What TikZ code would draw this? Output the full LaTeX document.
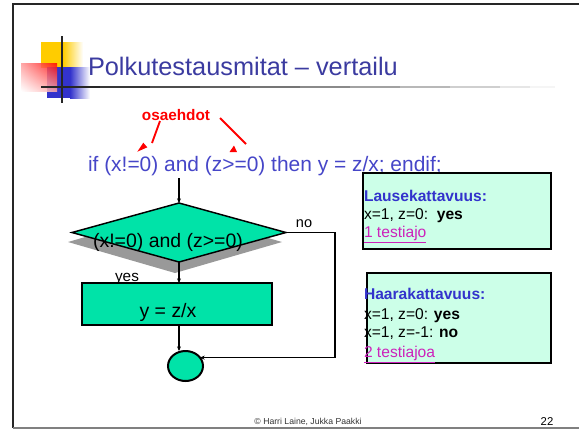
\documentclass[tikz,border=0pt]{standalone}
\usepackage{fontspec}
\setmainfont{Liberation Sans}
\usetikzlibrary{shapes.geometric,arrows.meta,shadings}
\definecolor{turq}{HTML}{00E3A8}
\definecolor{mint}{HTML}{CCFFE8}
\definecolor{titleblue}{HTML}{3B3BA0}
\definecolor{codeblue}{HTML}{4646C8}
\definecolor{headblue}{HTML}{3333CC}
\definecolor{mag}{HTML}{CC22BB}
\definecolor{logoyellow}{HTML}{FFCC00}
\definecolor{logoblue}{HTML}{3333CC}
\definecolor{ruleA}{HTML}{262626}
\definecolor{ruleB}{HTML}{383838}
\definecolor{ruleC}{HTML}{4D4D4D}
\definecolor{ruleD}{HTML}{616161}
\definecolor{ruleE}{HTML}{757575}
\definecolor{ruleF}{HTML}{8A8A8A}
\definecolor{ruleG}{HTML}{A1A1A1}
\definecolor{ruleH}{HTML}{B8B8B8}
\definecolor{ruleI}{HTML}{CFCFCF}
\definecolor{ruleJ}{HTML}{E6E6E6}
\definecolor{ruleK}{HTML}{F5F5F5}
\begin{document}
\begin{tikzpicture}[x=0.75pt,y=-0.75pt,
  every node/.style={inner sep=0pt,outer sep=0pt},
  conn/.style={draw=black,line width=1pt,-{Stealth[length=3.5pt,width=3pt]}},
  flowfill/.style={draw=black,fill=turq,line width=1.3pt},
  infobox/.style={draw=black,fill=mint,line width=1.5pt,anchor=north west},
  boxtext/.style={anchor=base west,font=\fontsize{11.7}{12}\selectfont},
  boxhead/.style={boxtext,text=headblue,font=\bfseries\fontsize{11.7}{12}\selectfont},
  redline/.style={draw=red,line width=1.4pt}]
\useasboundingbox (0,0) rectangle (579,430);
% frame
\draw[ruleA,line width=1.4pt] (579,4) -- (13,4) -- (13,428);
\draw[gray,line width=1pt] (13,428) -- (579,428);
% logo
\fill[logoyellow] (41,42) rectangle (63,68);
\shade[left color=logoyellow,right color=white] (63,42) rectangle (83,68);
\fill[logoblue] (47,67) rectangle (70,98);
\shade[left color=logoblue,right color=white] (70,67) rectangle (90,98);
\begin{scope}[opacity=0.85]
\shade[upper right=red,upper left=red!40,lower left=white,lower right=red!35] (21,63) rectangle (57,91);
\end{scope}
\draw[ruleA,line width=1.9pt] (62,36) -- (62,103);
% title rule, fading from black to white
\fill[ruleA] (41,85.7) rectangle (100.5,88.3);
\fill[ruleB] (100,85.7) rectangle (150.5,88.3);
\fill[ruleC] (150,85.7) rectangle (200.5,88.3);
\fill[ruleD] (200,85.7) rectangle (250.5,88.3);
\fill[ruleE] (250,85.7) rectangle (300.5,88.3);
\fill[ruleF] (300,85.7) rectangle (350.5,88.3);
\fill[ruleG] (350,85.7) rectangle (400.5,88.3);
\fill[ruleH] (400,85.7) rectangle (450.5,88.3);
\fill[ruleI] (450,85.7) rectangle (500.5,88.3);
\fill[ruleJ] (500,85.7) rectangle (530.5,88.3);
\fill[ruleK] (530,85.7) rectangle (555,88.3);
% title
\node[anchor=base west,text=titleblue,font=\fontsize{19}{20}\selectfont] (title) at (88,75) {Polkutestausmitat – vertailu};
% osaehdot
\node[anchor=base,text=red,font=\bfseries\fontsize{11.5}{12}\selectfont] (osa) at (176,120) {osaehdot};
\node[anchor=base west,text=codeblue,font=\fontsize{15.7}{16}\selectfont] (code) at (88,171) {if (x!=0) and (z>=0) then y = z/x; endif;};
\coordinate (la) at (160,121);
\coordinate (lb) at (152,143);
\coordinate (ra) at (220,118);
\coordinate (rb) at (246,144);
\draw[redline] (la) -- (lb);
\draw[redline] (ra) -- (rb);
\fill[red] (137.3,151.7) -- (147.3,147.3) -- (143.3,142.7) -- cycle;
\fill[red] (229.5,152) -- (237,152) -- (234,145.5) -- cycle;
% flowchart
\node[diamond,fill=gray!80,minimum width=160.5pt,minimum height=46.5pt] (shadow) at (175,242) {};
\node[diamond,flowfill,line width=1.1pt,minimum width=160.5pt,minimum height=44.25pt] (dia) at (179,232.5) {};
\node[anchor=base,font=\fontsize{14.6}{15}\selectfont] (dtext) at (168,247) {(x!=0) and (z>=0)};
\node[anchor=base,font=\fontsize{11.5}{12}\selectfont] (yes) at (127,281) {yes};
\node[flowfill,line width=1.5pt,minimum width=142.5pt,minimum height=31.5pt] (rect) at (177,304) {};
\node[anchor=base,font=\fontsize{14.6}{15}\selectfont] (rtext) at (168,317) {y = z/x};
\node[ellipse,flowfill,line width=1.5pt,minimum width=26.25pt,minimum height=22.5pt] (end) at (185.5,366) {};
\coordinate (c0) at (179,178);
\draw[conn] (c0) -- (dia.north);
\draw[conn] (dia.south) -- (rect.north -| dia.south);
\draw[conn] (rect.south -| dia.south) -- (end.north -| dia.south);
\draw[conn] (dia.east) -- ++(49,0) |- (end.30);
\node[anchor=base,font=\fontsize{10.9}{11}\selectfont] (no) at (304,227) {no};
% info boxes
\node[infobox,minimum width=141pt,minimum height=57pt] (b1) at (363,173) {};
\node[boxhead] (l1) at (364,201) {Lausekattavuus:};
\node[boxtext] (l2) at (364,219) {x=1, z=0:\ \ \textbf{yes}};
\node[boxtext,text=mag] (l3) at (364,237) {\underline{1 testiajo}};
\node[infobox,minimum width=138pt,minimum height=67.5pt] (b2) at (367,273) {};
\node[boxhead] (h1) at (364,299) {Haarakattavuus:};
\node[boxtext] (h2) at (364,319) {x=1, z=0: \textbf{yes}};
\node[boxtext] (h3) at (364,337) {x=1, z=-1: \textbf{no}};
\node[boxtext,text=mag] (h4) at (364,357) {\underline{2 testiajoa}};
% footer
\node[anchor=base,text=black!80,font=\fontsize{6.5}{7}\selectfont] (foot) at (308,424) {© Harri Laine, Jukka Paakki};
\node[anchor=base,font=\fontsize{8.5}{9}\selectfont] (page) at (547,425) {22};
\end{tikzpicture}
\end{document}
